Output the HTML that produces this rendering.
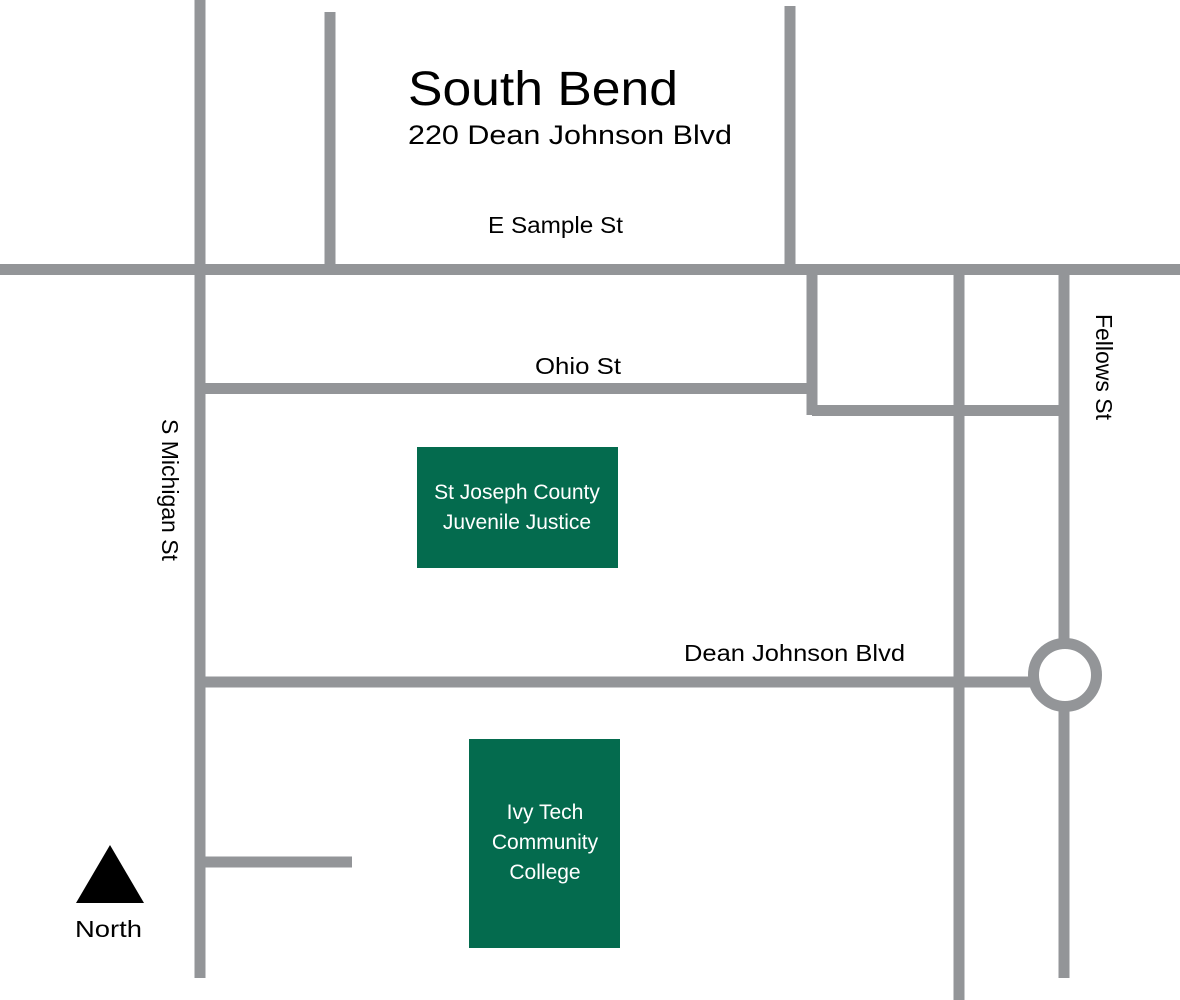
<!DOCTYPE html>
<html><head><style>html,body{margin:0;padding:0;background:#fff;}svg{display:block}</style></head>
<body>
<svg width="1180" height="1000" viewBox="0 0 1180 1000" xmlns="http://www.w3.org/2000/svg" font-family="Liberation Sans, sans-serif">
<g stroke="#939598" stroke-width="11" fill="none">
<line x1="0" y1="269.5" x2="1180" y2="269.5"/>
<line x1="200" y1="0" x2="200" y2="978"/>
<line x1="330" y1="12" x2="330" y2="269"/>
<line x1="790" y1="6" x2="790" y2="269"/>
<line x1="812" y1="269" x2="812" y2="415"/>
<line x1="812" y1="410.5" x2="1064" y2="410.5"/>
<line x1="200" y1="388.5" x2="812" y2="388.5"/>
<line x1="959" y1="269" x2="959" y2="1000"/>
<line x1="1064" y1="269" x2="1064" y2="643"/>
<line x1="1064" y1="708" x2="1064" y2="978"/>
<line x1="200" y1="682" x2="1033" y2="682"/>
<line x1="200" y1="862" x2="352" y2="862"/>
<circle cx="1065" cy="675" r="31.5"/>
</g>
<rect x="417" y="447" width="201" height="121" fill="#046b4e"/>
<rect x="469" y="739" width="151" height="209" fill="#046b4e"/>
<polygon points="110,845 76,903 144,903" fill="#000"/>
<g fill="#000" lengthAdjust="spacingAndGlyphs">
<text x="408" y="105" font-size="48" textLength="270" lengthAdjust="spacingAndGlyphs">South Bend</text>
<text x="408" y="144" font-size="27" textLength="324" lengthAdjust="spacingAndGlyphs">220 Dean Johnson Blvd</text>
<text x="488" y="233" font-size="23" textLength="135" lengthAdjust="spacingAndGlyphs">E Sample St</text>
<text x="535" y="374" font-size="23" textLength="86" lengthAdjust="spacingAndGlyphs">Ohio St</text>
<text x="684" y="661" font-size="23" textLength="221" lengthAdjust="spacingAndGlyphs">Dean Johnson Blvd</text>
<text x="75" y="937" font-size="23" textLength="67" lengthAdjust="spacingAndGlyphs">North</text>
<text transform="translate(162,490) rotate(90)" font-size="23" text-anchor="middle">S Michigan St</text>
<text transform="translate(1096,367) rotate(90)" font-size="23" text-anchor="middle">Fellows St</text>
</g>
<g fill="#fff" font-size="21" text-anchor="middle">
<text x="517" y="499">St Joseph County</text>
<text x="517" y="529">Juvenile Justice</text>
<text x="545" y="819">Ivy Tech</text>
<text x="545" y="849">Community</text>
<text x="545" y="879">College</text>
</g>
</svg>
</body></html>
